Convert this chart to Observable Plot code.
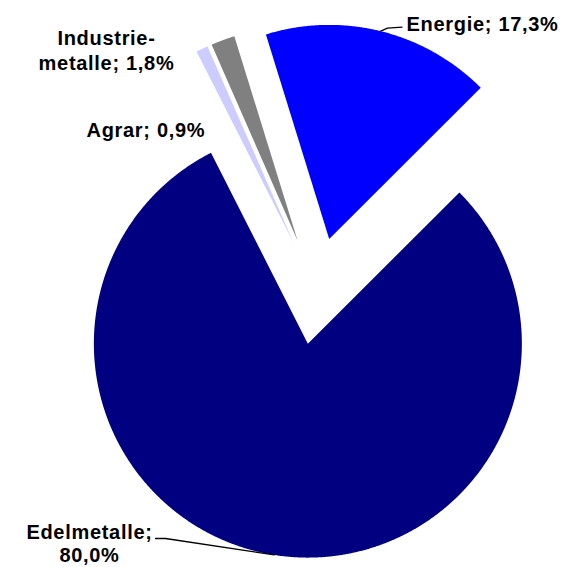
<!DOCTYPE html>
<html><head><meta charset="utf-8">
<script src="https://cdn.jsdelivr.net/npm/d3@7"></script>
<script src="https://cdn.jsdelivr.net/npm/@observablehq/plot@0.6"></script>
<style>html,body{margin:0;padding:0;background:#fff} svg{display:block}</style>
</head><body><div id="chart"></div>
<script>
// ---- data ----
const categories = ["Energie", "Edelmetalle", "Agrar", "Industriemetalle"];
const shares = [17.3, 80.0, 0.9, 1.8];
const labelTexts = ["Energie; 17,3%", "Edelmetalle;\n80,0%", "Agrar; 0,9%", "Industrie-\nmetalle; 1,8%"];
const colors = ["#0000FF", "#000080", "#CCCCFF", "#808080"];

// ---- layout ----
const W = 562, H = 567;
const R = 214;              // pie radius in px
const cx = 315.8, cy = 290.3; // pie centre in px
const startDeg = -17.2;     // first slice starts here (clockwise from 12 o'clock)
const explode = 0.25;       // explosion as fraction of radius
const FS = 20;

const toX = px => (px - cx) / R;
const toY = py => (cy - py) / R;
const rad = d => d * Math.PI / 180;

const total = d3.sum(shares);
let acc = startDeg;
const slices = categories.map((c, i) => {
  const a0 = acc, a1 = acc + shares[i] / total * 360;
  acc = a1;
  const mid = (a0 + a1) / 2;
  const ox = explode * Math.sin(rad(mid)), oy = explode * Math.cos(rad(mid));
  return {name: c, a0, a1, mid, ox, oy};
});

const polyPts = [];
for (const s of slices) {
  polyPts.push({name: s.name, x: s.ox, y: s.oy});
  const n = Math.max(4, Math.ceil((s.a1 - s.a0) / 0.25));
  for (let k = 0; k <= n; k++) {
    const a = rad(s.a0 + (s.a1 - s.a0) * k / n);
    polyPts.push({name: s.name, x: s.ox + Math.sin(a), y: s.oy + Math.cos(a)});
  }
}
const outerMid = s => ({x: s.ox + Math.sin(rad(s.mid)), y: s.oy + Math.cos(rad(s.mid))});

const sE = slices[0], sM = slices[1];
const leaders = [
  {name: "Energie", x: outerMid(sE).x, y: outerMid(sE).y},
  {name: "Energie", x: toX(387), y: toY(27.7)},
  {name: "Energie", x: toX(401.5), y: toY(26.7)},
  {name: "Edelmetalle", x: toX(155), y: toY(538)},
  {name: "Edelmetalle", x: toX(165), y: toY(538)},
  {name: "Edelmetalle", x: outerMid(sM).x, y: outerMid(sM).y}
];

const topOf = b => toY(b - 0.71 * FS);
const labels = [
  {text: labelTexts[0], x: toX(406), y: topOf(27.3), anchor: "start", lh: 1.22},
  {text: labelTexts[1], x: toX(89), y: topOf(536.5), anchor: "middle", lh: 1.16},
  {text: labelTexts[2], x: toX(86), y: topOf(133.3), anchor: "start", lh: 1.22},
  {text: labelTexts[3], x: toX(106), y: topOf(41.3), anchor: "middle", lh: 1.24}
];

const textOpts = {x: "x", y: "y", text: "text", lineAnchor: "top", fontSize: FS, fontWeight: "bold", fill: "black"};

const chart = Plot.plot({
  width: W, height: H,
  margin: 0,
  x: {domain: [toX(0), toX(W)], range: [0, W], axis: null},
  y: {domain: [toY(H), toY(0)], range: [H, 0], axis: null},
  color: {domain: categories, range: colors},
  style: {background: "white", fontFamily: "'Liberation Sans', Arial, sans-serif", letterSpacing: "0.7px"},
  marks: [
    Plot.line(polyPts, {x: "x", y: "y", z: "name", fill: "name", stroke: null, curve: "linear-closed"}),
    Plot.line(leaders, {x: "x", y: "y", z: "name", stroke: "black", strokeWidth: 1.3}),
    ...labels.map(l => Plot.text([l], {...textOpts, textAnchor: l.anchor, lineHeight: l.lh}))
  ]
});
document.getElementById("chart").append(chart);
</script>
</body></html>
